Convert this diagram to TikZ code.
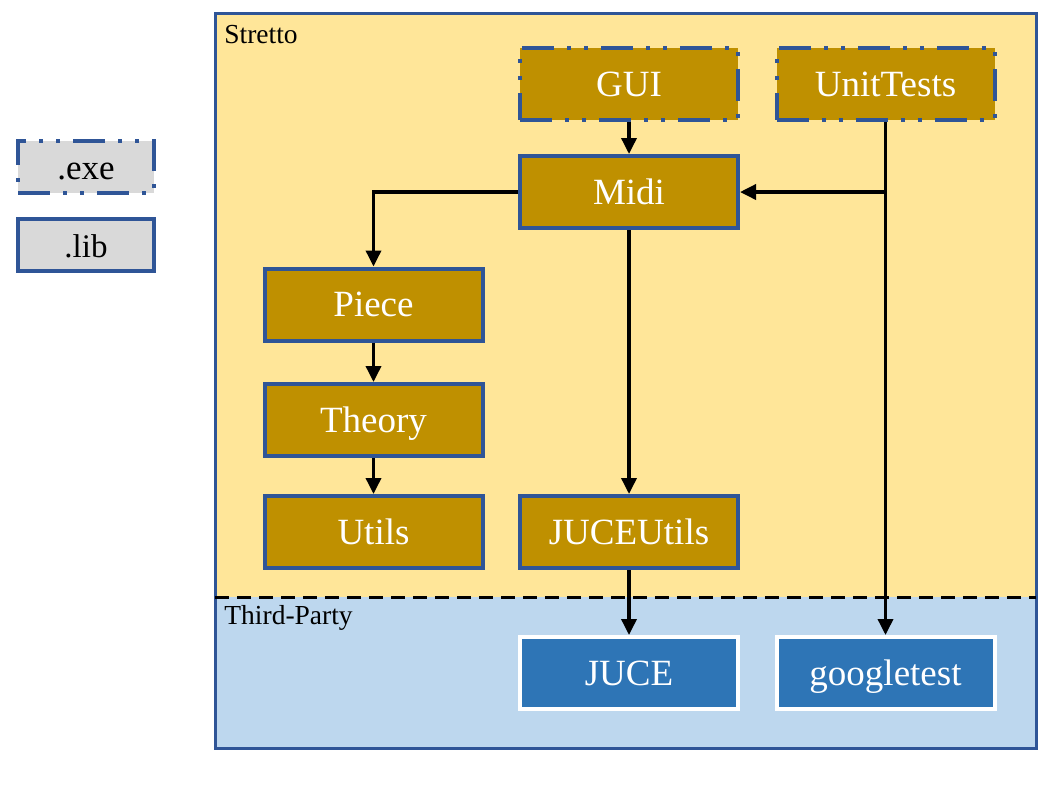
\documentclass[tikz,border=0pt]{standalone}
\usepackage{fontspec}
\setmainfont{Liberation Serif}
\usetikzlibrary{arrows.meta}

\definecolor{strettoyellow}{HTML}{FFE699}
\definecolor{partyblue}{HTML}{BDD7EE}
\definecolor{libgold}{HTML}{BF9000}
\definecolor{extblue}{HTML}{2E75B6}
\definecolor{edgeblue}{HTML}{2F5597}
\definecolor{legendgray}{HTML}{D9D9D9}

\tikzset{
    exedash/.style={dash pattern=on 16pt off 6.5pt on 2pt off 6.5pt on 2pt off 6.5pt},
    libbox/.style={draw=edgeblue, line width=2pt, fill=libgold, text=white,
        minimum width=109pt, minimum height=36pt, inner sep=0pt, text depth=0pt,
        font=\fontsize{18.5}{22}\selectfont},
    exebox/.style={libbox, exedash},
    extbox/.style={libbox, draw=white, fill=extblue},
    legendbox/.style={draw=edgeblue, line width=2pt, fill=legendgray,
        minimum width=68pt, minimum height=26pt, inner sep=0pt,
        text height=12pt, text depth=0pt,
        font=\fontsize{16.5}{19}\selectfont},
    grouplabel/.style={anchor=base west, inner sep=0pt, font=\fontsize{13.75}{16}\selectfont},
    dep/.style={-{Triangle[length=8pt,width=7.5pt]}, line width=1.75pt}
}

\begin{document}
\begin{tikzpicture}[x=0.5pt, y=-0.5pt]
    \useasboundingbox (0,0) rectangle (1064,800);

    % Draw the two group areas
    \fill[strettoyellow] (215,13) rectangle (1036,597);
    \fill[partyblue] (215,597) rectangle (1036,748);
    \draw[edgeblue, line width=1.5pt] (215,13) rectangle (1036,748);
    \draw[line width=1.5pt, dash pattern=on 7pt off 4pt] (215,597) -- (1036,597);
    \node[grouplabel] (stretto) at (224,43) {Stretto};
    \node[grouplabel] (thirdparty) at (224,624) {Third-Party};

    % Draw the legend
    \node[legendbox, exedash, font=\fontsize{17.5}{20}\selectfont] (exe) at (86,167) {.exe};
    \node[legendbox] (lib) at (86,245) {.lib};

    % Draw the projects
    \node[exebox] (gui) at (629,84) {GUI};
    \node[exebox] (unittests) at (885.5,84) {UnitTests};
    \node[libbox] (midi) at (629,192) {Midi};
    \node[libbox] (piece) at (373.5,304.5) {Piece};
    \node[libbox] (theory) at (373.5,420) {Theory};
    \node[libbox] (utils) at (373.5,532) {Utils};
    \node[libbox] (juceutils) at (629,532) {JUCEUtils};
    \node[extbox] (juce) at (629,673) {JUCE};
    \node[extbox] (googletest) at (885.5,673) {googletest};

    % Draw the dependencies
    \draw[dep] (gui) -- (midi);
    \draw[dep] (midi.west) -| (piece.north);
    \draw[dep] (piece) -- (theory);
    \draw[dep] (theory) -- (utils);
    \draw[dep] (midi) -- (juceutils);
    \draw[dep] (juceutils) -- (juce);
    \draw[dep] (unittests) -- (googletest);
    \coordinate (branch) at (unittests.south |- midi.east);
    \draw[dep] (branch) -- (midi.east);
\end{tikzpicture}
\end{document}
